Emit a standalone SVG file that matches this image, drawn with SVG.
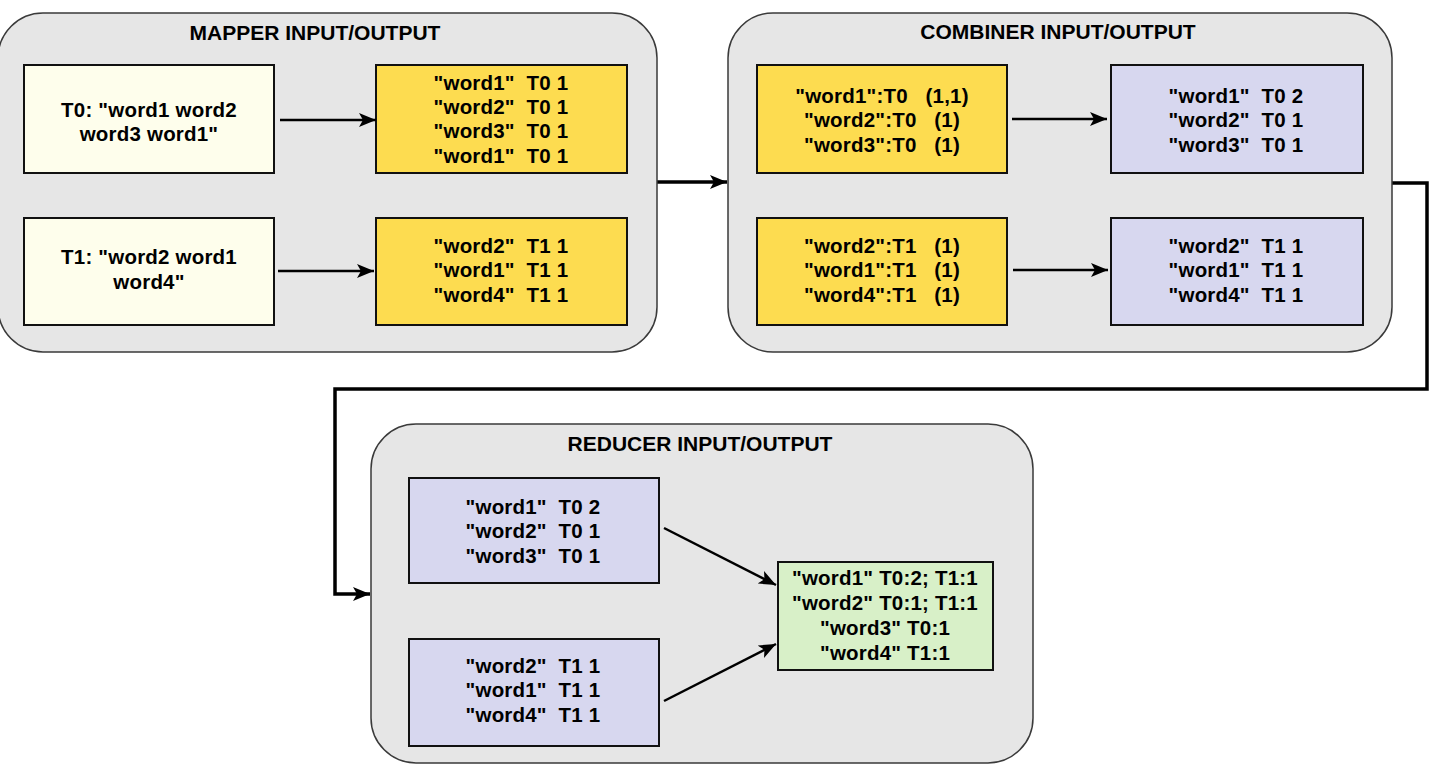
<svg xmlns="http://www.w3.org/2000/svg" width="1435" height="776" viewBox="0 0 1435 776">
<defs>
<style>
.panel{fill:#e6e6e6;stroke:#3a3a3a;stroke-width:1.5}
.box{stroke:#111;stroke-width:2}
.ly{fill:#fefeec}
.yl{fill:#fddc50}
.lv{fill:#d7d7ef}
.gr{fill:#d8f0c8}
text{font-family:"Liberation Sans",Arial,sans-serif;font-weight:bold;font-size:20.5px;fill:#000;text-anchor:middle;white-space:pre;letter-spacing:0.2px}
.title{font-size:21px;letter-spacing:0}
.arr{stroke:#000;stroke-width:2.5;fill:none}
.conn{stroke:#000;stroke-width:3.5;fill:none}
</style>
<marker id="ah" markerUnits="userSpaceOnUse" markerWidth="18" markerHeight="14" refX="17" refY="7" orient="auto">
<path d="M0,0 L17,7 L0,14 L4,7 Z" fill="#000"/>
</marker>
<marker id="ahb" markerUnits="userSpaceOnUse" markerWidth="18" markerHeight="14" refX="17" refY="7" orient="auto">
<path d="M0,0 L17,7 L0,14 L4,7 Z" fill="#000"/>
</marker>
</defs>
<rect width="1435" height="776" fill="#fff"/>

<g id="connectors">
<line class="conn" x1="657" y1="182" x2="727" y2="182" marker-end="url(#ahb)"/>
<polyline class="conn" points="1392,183 1427,183 1427,389 335,389 335,594 370,594" marker-end="url(#ahb)"/>
</g>

<g id="mapper">
<rect class="panel" x="-2" y="13" width="659" height="339" rx="45" ry="45"/>
<text class="title" x="315" y="40">MAPPER INPUT/OUTPUT</text>
<g id="mapper-in-t0">
<rect class="box ly" x="24" y="65" width="250" height="108"/>
<text x="149" y="117">T0: "word1 word2</text>
<text x="149" y="141">word3 word1"</text>
</g>
<g id="mapper-out-t0">
<rect class="box yl" x="376" y="65" width="251" height="108"/>
<text x="501" y="90">"word1"  T0 1</text>
<text x="501" y="114">"word2"  T0 1</text>
<text x="501" y="138">"word3"  T0 1</text>
<text x="501" y="163">"word1"  T0 1</text>
</g>
<g id="mapper-in-t1">
<rect class="box ly" x="24" y="218" width="250" height="107"/>
<text x="149" y="264">T1: "word2 word1</text>
<text x="149" y="289">word4"</text>
</g>
<g id="mapper-out-t1">
<rect class="box yl" x="376" y="218" width="251" height="107"/>
<text x="501" y="253">"word2"  T1 1</text>
<text x="501" y="277">"word1"  T1 1</text>
<text x="501" y="302">"word4"  T1 1</text>
</g>
<line class="arr" x1="280" y1="120" x2="376" y2="120" marker-end="url(#ah)"/>
<line class="arr" x1="278" y1="271" x2="374" y2="271" marker-end="url(#ah)"/>
</g>

<g id="combiner">
<rect class="panel" x="728" y="13" width="664" height="339" rx="45" ry="45"/>
<text class="title" x="1058" y="39">COMBINER INPUT/OUTPUT</text>
<g id="combiner-in-t0">
<rect class="box yl" x="757" y="65" width="250" height="108"/>
<text x="882" y="103">"word1":T0   (1,1)</text>
<text x="882" y="127">"word2":T0   (1)</text>
<text x="882" y="152">"word3":T0   (1)</text>
</g>
<g id="combiner-out-t0">
<rect class="box lv" x="1111" y="65" width="252" height="108"/>
<text x="1236" y="103">"word1"  T0 2</text>
<text x="1236" y="127">"word2"  T0 1</text>
<text x="1236" y="152">"word3"  T0 1</text>
</g>
<g id="combiner-in-t1">
<rect class="box yl" x="757" y="218" width="250" height="107"/>
<text x="882" y="253">"word2":T1   (1)</text>
<text x="882" y="277">"word1":T1   (1)</text>
<text x="882" y="302">"word4":T1   (1)</text>
</g>
<g id="combiner-out-t1">
<rect class="box lv" x="1111" y="218" width="252" height="107"/>
<text x="1236" y="253">"word2"  T1 1</text>
<text x="1236" y="277">"word1"  T1 1</text>
<text x="1236" y="302">"word4"  T1 1</text>
</g>
<line class="arr" x1="1012" y1="119" x2="1107" y2="119" marker-end="url(#ah)"/>
<line class="arr" x1="1013" y1="270" x2="1108" y2="270" marker-end="url(#ah)"/>
</g>

<g id="reducer">
<rect class="panel" x="371" y="424" width="662" height="339" rx="45" ry="45"/>
<text class="title" x="700" y="451">REDUCER INPUT/OUTPUT</text>
<g id="reducer-in-t0">
<rect class="box lv" x="409" y="478" width="250" height="105"/>
<text x="533" y="514">"word1"  T0 2</text>
<text x="533" y="538">"word2"  T0 1</text>
<text x="533" y="563">"word3"  T0 1</text>
</g>
<g id="reducer-in-t1">
<rect class="box lv" x="409" y="639" width="250" height="107"/>
<text x="533" y="673">"word2"  T1 1</text>
<text x="533" y="697">"word1"  T1 1</text>
<text x="533" y="722">"word4"  T1 1</text>
</g>
<g id="reducer-out">
<rect class="box gr" x="778" y="562" width="215" height="108"/>
<text x="885" y="585">"word1" T0:2; T1:1</text>
<text x="885" y="610">"word2" T0:1; T1:1</text>
<text x="885" y="635">"word3" T0:1</text>
<text x="885" y="660">"word4" T1:1</text>
</g>
<line class="arr" x1="664" y1="528" x2="776" y2="585" marker-end="url(#ah)"/>
<line class="arr" x1="664" y1="701" x2="776" y2="644" marker-end="url(#ah)"/>
</g>
</svg>
